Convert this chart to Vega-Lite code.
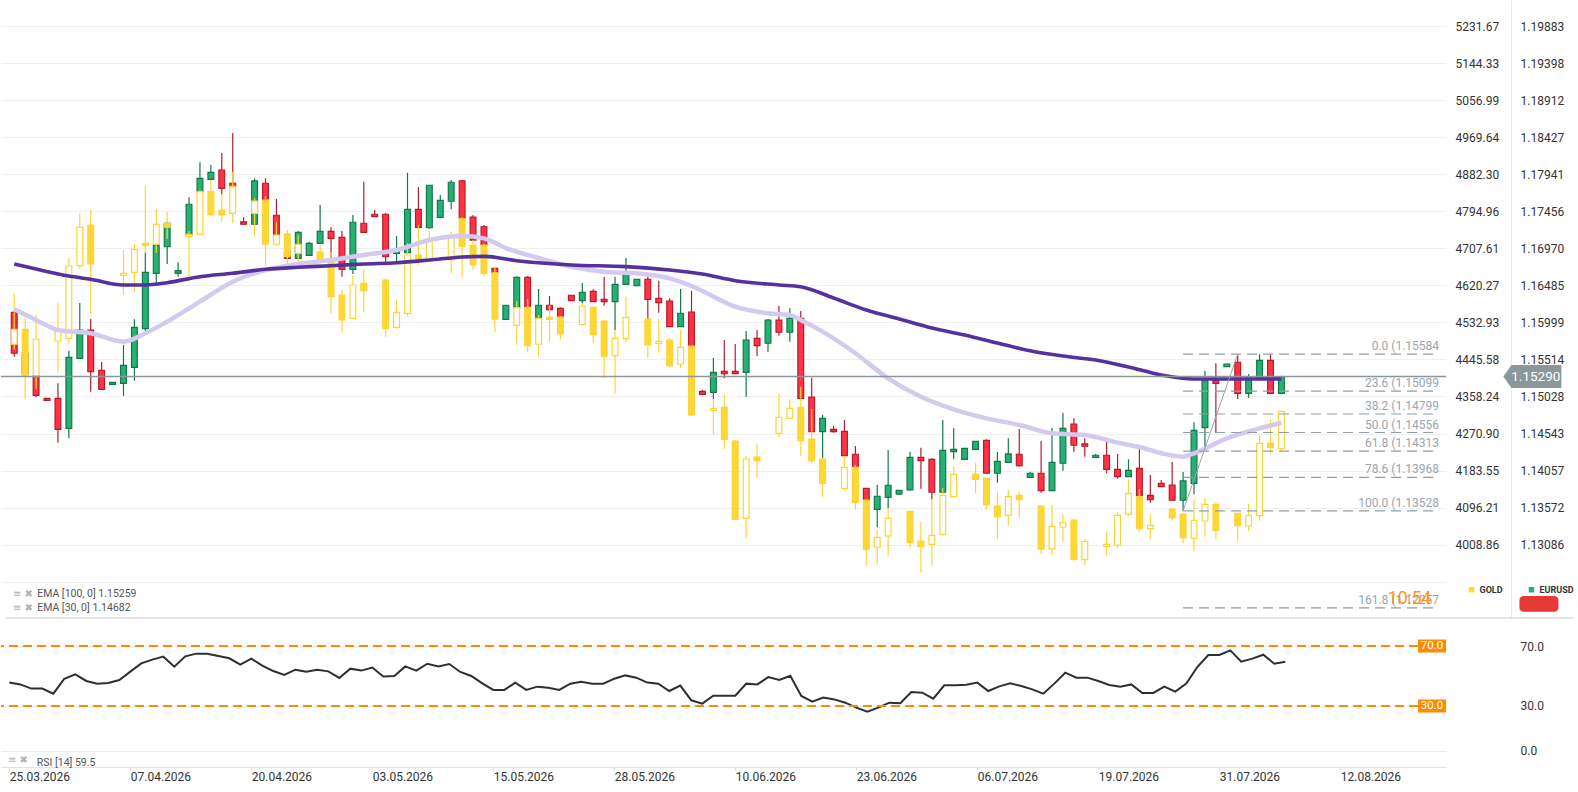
{
  "$schema": "https://vega.github.io/schema/vega-lite/v6.json",
  "padding": 0,
  "background": "white",
  "spacing": 5,
  "config": {
    "view": {"stroke": null},
    "font": "Roboto",
    "axis": {"labelFont": "Roboto", "labelColor": "#333333", "labelFontSize": 12, "title": null}
  },
  "datasets": {
    "candles": [
      {"i":0,"eo":1.16132,"eh":1.16149,"el":1.1555,"ec":1.15595,"go":4481.4,"gh":4600.0,"gl":4469.6,"gc":4516.7,"rsi":45.6},
      {"i":1,"eo":1.15595,"eh":1.15625,"el":1.15296,"ec":1.15323,"go":4516.7,"gh":4542.6,"gl":4351.7,"gc":4407.3,"rsi":44.4},
      {"i":2,"eo":1.153,"eh":1.15323,"el":1.15017,"ec":1.15044,"go":4407.3,"gh":4552.1,"gl":4375.3,"gc":4493.2,"rsi":41.6},
      {"i":3,"eo":1.15004,"eh":1.15008,"el":1.14969,"ec":1.14978,"rsi":41.6},
      {"i":4,"eo":1.15004,"eh":1.15201,"el":1.14423,"ec":1.14598,"go":4489.1,"gh":4579.4,"gl":4416.7,"gc":4512.6,"rsi":38.2},
      {"i":5,"eo":1.14611,"eh":1.15625,"el":1.1448,"ec":1.15542,"go":4495.5,"gh":4685.5,"gl":4483.7,"gc":4666.0,"rsi":48.2},
      {"i":6,"eo":1.15529,"eh":1.16254,"el":1.1552,"ec":1.159,"go":4666.7,"gh":4790.9,"gl":4658.9,"gc":4757.3,"rsi":51.1},
      {"i":7,"eo":1.159,"eh":1.16044,"el":1.15091,"ec":1.15353,"go":4762.6,"gh":4798.0,"gl":4554.4,"gc":4670.7,"rsi":46.7},
      {"i":8,"eo":1.15371,"eh":1.1548,"el":1.15113,"ec":1.15122,"rsi":44.9},
      {"i":9,"eo":1.15188,"eh":1.15218,"el":1.15179,"ec":1.15214,"rsi":45.3},
      {"i":10,"eo":1.15201,"eh":1.15704,"el":1.15034,"ec":1.15437,"go":4644.0,"gh":4703.7,"gl":4598.3,"gc":4648.7,"rsi":47.3},
      {"i":11,"eo":1.1541,"eh":1.1604,"el":1.15235,"ec":1.15935,"go":4651.1,"gh":4717.9,"gl":4605.4,"gc":4705.4,"rsi":52.9},
      {"i":12,"eo":1.15917,"eh":1.16922,"el":1.15883,"ec":1.16656,"go":4719.5,"gh":4854.6,"gl":4695.9,"gc":4713.9,"rsi":58.4},
      {"i":13,"eo":1.16643,"eh":1.17027,"el":1.16512,"ec":1.17013,"go":4717.2,"gh":4800.4,"gl":4697.3,"gc":4764.3,"rsi":60.9},
      {"i":14,"eo":1.16991,"eh":1.17316,"el":1.16765,"ec":1.17299,"go":4766.6,"gh":4792.6,"gl":4729.7,"gc":4757.3,"rsi":62.9},
      {"i":15,"eo":1.16643,"eh":1.16787,"el":1.16598,"ec":1.16677,"rsi":56.2},
      {"i":16,"eo":1.17145,"eh":1.17639,"el":1.17131,"ec":1.17548,"go":4735.1,"gh":4748.5,"gl":4633.0,"gc":4740.7,"rsi":63.1},
      {"i":17,"eo":1.17713,"eh":1.18098,"el":1.17709,"ec":1.17888,"go":4740.7,"gh":4845.2,"gl":4739.1,"gc":4841.2,"rsi":64.9},
      {"i":18,"eo":1.17875,"eh":1.18063,"el":1.17866,"ec":1.17967,"go":4841.2,"gh":4868.8,"gl":4784.6,"gc":4786.2,"rsi":64.9},
      {"i":19,"eo":1.17997,"eh":1.1822,"el":1.17683,"ec":1.17757,"go":4798.0,"gh":4835.8,"gl":4770.4,"gc":4786.2,"rsi":63.3},
      {"i":20,"eo":1.17823,"eh":1.18482,"el":1.17757,"ec":1.17778,"go":4790.2,"gh":4888.3,"gl":4766.6,"gc":4853.9,"rsi":61.8},
      {"i":21,"eo":1.17316,"eh":1.17377,"el":1.17283,"ec":1.17286,"rsi":57.6},
      {"i":22,"eo":1.17286,"eh":1.17888,"el":1.17276,"ec":1.17853,"go":4790.2,"gh":4825.6,"gl":4735.1,"gc":4819.2,"rsi":61.6},
      {"i":23,"eo":1.17823,"eh":1.17888,"el":1.17591,"ec":1.17604,"go":4821.6,"gh":4831.0,"gl":4666.7,"gc":4717.2,"rsi":56.9},
      {"i":24,"eo":1.17404,"eh":1.17617,"el":1.17131,"ec":1.17145,"go":4717.2,"gh":4770.4,"gl":4713.2,"gc":4739.1,"rsi":53.3},
      {"i":25,"eo":1.16926,"eh":1.16948,"el":1.16836,"ec":1.16839,"go":4741.5,"gh":4750.9,"gl":4664.4,"gc":4688.0,"rsi":50.7},
      {"i":26,"eo":1.16839,"eh":1.17197,"el":1.16836,"ec":1.1718,"go":4695.9,"gh":4739.1,"gl":4664.4,"gc":4717.2,"rsi":54.2},
      {"i":27,"eo":1.16879,"eh":1.17057,"el":1.16876,"ec":1.17036,"rsi":52.9},
      {"i":28,"eo":1.17036,"eh":1.17538,"el":1.17034,"ec":1.17193,"go":4699.0,"gh":4715.5,"gl":4676.1,"gc":4681.8,"rsi":54.2},
      {"i":29,"eo":1.17193,"eh":1.17245,"el":1.16598,"ec":1.17101,"go":4680.1,"gh":4698.3,"gl":4554.4,"gc":4593.6,"rsi":53.1},
      {"i":30,"eo":1.17114,"eh":1.17197,"el":1.16598,"ec":1.16695,"go":4597.6,"gh":4609.4,"gl":4508.6,"gc":4538.6,"rsi":48.7},
      {"i":31,"eo":1.16695,"eh":1.17407,"el":1.16634,"ec":1.17312,"go":4542.6,"gh":4644.7,"gl":4540.3,"gc":4621.2,"rsi":54.9},
      {"i":32,"eo":1.17299,"eh":1.17844,"el":1.17177,"ec":1.1718,"go":4625.2,"gh":4658.2,"gl":4558.2,"gc":4607.7,"rsi":53.6},
      {"i":33,"eo":1.17417,"eh":1.17473,"el":1.17383,"ec":1.17387,"rsi":55.6},
      {"i":34,"eo":1.17417,"eh":1.17434,"el":1.16795,"ec":1.1686,"go":4633.0,"gh":4635.4,"gl":4499.3,"gc":4519.0,"rsi":49.6},
      {"i":35,"eo":1.16905,"eh":1.17131,"el":1.16774,"ec":1.16931,"go":4521.4,"gh":4585.8,"gl":4516.7,"gc":4556.8,"rsi":50.0},
      {"i":36,"eo":1.16912,"eh":1.17962,"el":1.16908,"ec":1.17482,"go":4554.4,"gh":4719.5,"gl":4546.4,"gc":4691.9,"rsi":56.4},
      {"i":37,"eo":1.17482,"eh":1.17774,"el":1.17237,"ec":1.17246,"go":4691.9,"gh":4762.6,"gl":4668.3,"gc":4684.1,"rsi":53.6},
      {"i":38,"eo":1.1724,"eh":1.178,"el":1.17227,"ec":1.17797,"go":4681.8,"gh":4748.5,"gl":4681.3,"gc":4724.2,"rsi":58.2},
      {"i":39,"eo":1.17377,"eh":1.17669,"el":1.17374,"ec":1.176,"rsi":56.4},
      {"i":40,"eo":1.17587,"eh":1.17866,"el":1.17482,"ec":1.17836,"go":4680.1,"gh":4746.8,"gl":4648.7,"gc":4735.1,"rsi":58.0},
      {"i":41,"eo":1.17853,"eh":1.17866,"el":1.17351,"ec":1.17359,"go":4777.5,"gh":4780.3,"gl":4639.4,"gc":4711.5,"rsi":52.7},
      {"i":42,"eo":1.17381,"eh":1.17407,"el":1.1707,"ec":1.17079,"go":4715.5,"gh":4727.3,"gl":4656.5,"gc":4668.3,"rsi":50.0},
      {"i":43,"eo":1.17253,"eh":1.17276,"el":1.17,"ec":1.17013,"go":4715.5,"gh":4717.9,"gl":4643.1,"gc":4648.7,"rsi":45.1},
      {"i":44,"eo":1.16708,"eh":1.16712,"el":1.16647,"ec":1.16651,"go":4650.1,"gh":4664.4,"gl":4511.0,"gc":4540.9,"rsi":40.7},
      {"i":45,"eo":1.1604,"eh":1.16228,"el":1.16037,"ec":1.16224,"rsi":40.7},
      {"i":46,"eo":1.16192,"eh":1.16601,"el":1.16188,"ec":1.1659,"go":4526.1,"gh":4583.4,"gl":4479.7,"gc":4567.6,"rsi":45.6},
      {"i":47,"eo":1.1659,"eh":1.16607,"el":1.16195,"ec":1.16198,"go":4568.3,"gh":4588.2,"gl":4463.9,"gc":4478.0,"rsi":40.7},
      {"i":48,"eo":1.16053,"eh":1.16437,"el":1.1605,"ec":1.16224,"go":4481.4,"gh":4550.4,"gl":4452.1,"gc":4542.6,"rsi":42.9},
      {"i":49,"eo":1.16224,"eh":1.16345,"el":1.16162,"ec":1.16168,"go":4545.0,"gh":4573.3,"gl":4487.5,"gc":4540.3,"rsi":42.2},
      {"i":50,"eo":1.16184,"eh":1.16195,"el":1.16066,"ec":1.1607,"go":4545.7,"gh":4548.1,"gl":4493.2,"gc":4506.3,"rsi":40.7},
      {"i":51,"eo":1.16355,"eh":1.16359,"el":1.16284,"ec":1.16286,"rsi":44.9},
      {"i":52,"eo":1.16284,"eh":1.16516,"el":1.16254,"ec":1.16394,"go":4527.5,"gh":4578.7,"gl":4526.8,"gc":4571.0,"rsi":46.2},
      {"i":53,"eo":1.16407,"eh":1.16433,"el":1.16267,"ec":1.16271,"go":4568.3,"gh":4570.3,"gl":4483.7,"gc":4504.0,"rsi":44.9},
      {"i":54,"eo":1.16302,"eh":1.16594,"el":1.16218,"ec":1.16271,"go":4536.2,"gh":4537.4,"gl":4401.1,"gc":4452.1,"rsi":44.9},
      {"i":55,"eo":1.16271,"eh":1.16594,"el":1.159,"ec":1.16499,"go":4454.5,"gh":4515.0,"gl":4365.8,"gc":4495.5,"rsi":48.2},
      {"i":56,"eo":1.16499,"eh":1.16843,"el":1.16496,"ec":1.16643,"go":4494.6,"gh":4593.6,"gl":4487.5,"gc":4545.0,"rsi":50.4},
      {"i":57,"eo":1.16481,"eh":1.16565,"el":1.16477,"ec":1.16562,"rsi":48.9},
      {"i":58,"eo":1.16565,"eh":1.16598,"el":1.16044,"ec":1.16302,"go":4540.9,"gh":4542.1,"gl":4448.3,"gc":4479.7,"rsi":45.6},
      {"i":59,"eo":1.16315,"eh":1.16546,"el":1.16127,"ec":1.16258,"go":4483.7,"gh":4540.9,"gl":4461.5,"gc":4488.4,"rsi":44.9},
      {"i":60,"eo":1.1628,"eh":1.16315,"el":1.15939,"ec":1.15943,"go":4491.5,"gh":4495.5,"gl":4427.1,"gc":4430.9,"rsi":40.0},
      {"i":61,"eo":1.15943,"eh":1.16437,"el":1.15939,"ec":1.16119,"go":4434.9,"gh":4515.0,"gl":4424.7,"gc":4474.2,"rsi":43.6},
      {"i":62,"eo":1.16136,"eh":1.16411,"el":1.15687,"ec":1.15691,"go":4477.3,"gh":4478.5,"gl":4312.2,"gc":4314.6,"rsi":33.8},
      {"i":63,"eo":1.15096,"eh":1.15113,"el":1.15054,"ec":1.15057,"rsi":31.6},
      {"i":64,"eo":1.15083,"eh":1.15533,"el":1.14995,"ec":1.15345,"go":4325.7,"gh":4352.4,"gl":4267.4,"gc":4330.4,"rsi":36.9},
      {"i":65,"eo":1.15358,"eh":1.15769,"el":1.15266,"ec":1.15327,"go":4332.8,"gh":4361.8,"gl":4234.4,"gc":4257.2,"rsi":36.9},
      {"i":66,"eo":1.15358,"eh":1.15716,"el":1.15323,"ec":1.15327,"go":4253.3,"gh":4255.6,"gl":4068.2,"gc":4068.7,"rsi":36.9},
      {"i":67,"eo":1.15345,"eh":1.15887,"el":1.15025,"ec":1.15769,"go":4071.0,"gh":4217.9,"gl":4023.9,"gc":4210.8,"rsi":44.9},
      {"i":68,"eo":1.15791,"eh":1.159,"el":1.15559,"ec":1.15694,"go":4215.6,"gh":4246.2,"gl":4167.7,"gc":4206.8,"rsi":44.4},
      {"i":69,"eo":1.15726,"eh":1.16044,"el":1.15616,"ec":1.16031,"rsi":49.3},
      {"i":70,"eo":1.16031,"eh":1.16214,"el":1.15825,"ec":1.1587,"go":4271.4,"gh":4365.8,"gl":4261.9,"gc":4309.0,"rsi":47.3},
      {"i":71,"eo":1.1587,"eh":1.16184,"el":1.15747,"ec":1.16053,"go":4306.8,"gh":4351.6,"gl":4306.3,"gc":4330.4,"rsi":50.2},
      {"i":72,"eo":1.16053,"eh":1.16149,"el":1.15002,"ec":1.15004,"go":4332.8,"gh":4381.3,"gl":4218.6,"gc":4254.0,"rsi":36.7},
      {"i":73,"eo":1.15021,"eh":1.15274,"el":1.14563,"ec":1.14567,"go":4258.0,"gh":4328.8,"gl":4200.7,"gc":4206.8,"rsi":32.9},
      {"i":74,"eo":1.14567,"eh":1.14786,"el":1.14218,"ec":1.14742,"go":4210.8,"gh":4212.0,"gl":4122.0,"gc":4153.5,"rsi":35.6},
      {"i":75,"eo":1.14598,"eh":1.14641,"el":1.14554,"ec":1.14567,"rsi":34.4},
      {"i":76,"eo":1.14572,"eh":1.1472,"el":1.14248,"ec":1.14252,"go":4140.8,"gh":4218.6,"gl":4136.1,"gc":4191.3,"rsi":32.2},
      {"i":77,"eo":1.14271,"eh":1.1438,"el":1.14098,"ec":1.141,"go":4191.3,"gh":4196.7,"gl":4090.6,"gc":4107.8,"rsi":28.9},
      {"i":78,"eo":1.13825,"eh":1.13829,"el":1.13668,"ec":1.13672,"go":4114.2,"gh":4115.4,"gl":3960.9,"gc":3998.0,"rsi":26.2},
      {"i":79,"eo":1.1355,"eh":1.13868,"el":1.13314,"ec":1.13721,"go":4002.7,"gh":4043.4,"gl":3962.6,"gc":4026.2,"rsi":28.9},
      {"i":80,"eo":1.13707,"eh":1.14327,"el":1.13563,"ec":1.13865,"go":4029.3,"gh":4094.5,"gl":3982.8,"gc":4071.0,"rsi":32.2},
      {"i":81,"eo":1.13747,"eh":1.13803,"el":1.13744,"ec":1.13799,"rsi":31.8},
      {"i":82,"eo":1.13803,"eh":1.14305,"el":1.13796,"ec":1.14231,"go":4087.5,"gh":4088.2,"gl":4000.4,"gc":4013.5,"rsi":39.3},
      {"i":83,"eo":1.14231,"eh":1.14357,"el":1.1382,"ec":1.14187,"go":4017.5,"gh":4062.3,"gl":3942.7,"gc":4004.1,"rsi":38.9},
      {"i":84,"eo":1.14205,"eh":1.14218,"el":1.13681,"ec":1.13773,"go":4009.7,"gh":4115.8,"gl":3960.9,"gc":4030.9,"rsi":34.9},
      {"i":85,"eo":1.13773,"eh":1.1472,"el":1.1377,"ec":1.14323,"go":4033.3,"gh":4141.8,"gl":4030.0,"gc":4125.2,"rsi":43.8},
      {"i":86,"eo":1.14305,"eh":1.14611,"el":1.14205,"ec":1.14336,"go":4122.0,"gh":4194.3,"gl":4120.5,"gc":4174.8,"rsi":43.8},
      {"i":87,"eo":1.14205,"eh":1.14353,"el":1.14202,"ec":1.14349,"rsi":44.2},
      {"i":88,"eo":1.14336,"eh":1.14445,"el":1.14333,"ec":1.14441,"go":4175.5,"gh":4202.1,"gl":4129.9,"gc":4163.0,"rsi":45.6},
      {"i":89,"eo":1.14454,"eh":1.14467,"el":1.14019,"ec":1.14022,"go":4165.3,"gh":4166.0,"gl":4092.2,"gc":4103.1,"rsi":40.0},
      {"i":90,"eo":1.14022,"eh":1.14301,"el":1.13899,"ec":1.14179,"go":4100.0,"gh":4133.7,"gl":4021.5,"gc":4074.8,"rsi":43.1},
      {"i":91,"eo":1.14166,"eh":1.1448,"el":1.14163,"ec":1.14275,"go":4078.1,"gh":4137.7,"gl":4053.6,"gc":4122.0,"rsi":45.1},
      {"i":92,"eo":1.14271,"eh":1.14602,"el":1.14108,"ec":1.14121,"go":4125.2,"gh":4133.7,"gl":4073.4,"gc":4114.9,"rsi":43.3},
      {"i":93,"eo":1.13969,"eh":1.14043,"el":1.13966,"ec":1.14022,"rsi":41.1},
      {"i":94,"eo":1.14022,"eh":1.14445,"el":1.13767,"ec":1.13794,"go":4100.0,"gh":4101.2,"gl":3986.8,"gc":3998.0,"rsi":38.2},
      {"i":95,"eo":1.13794,"eh":1.14615,"el":1.1379,"ec":1.14166,"go":3998.7,"gh":4102.4,"gl":3984.4,"gc":4052.2,"rsi":44.9},
      {"i":96,"eo":1.14153,"eh":1.14812,"el":1.14056,"ec":1.14611,"go":4049.9,"gh":4081.2,"gl":4015.8,"gc":4060.7,"rsi":52.2},
      {"i":97,"eo":1.14668,"eh":1.14742,"el":1.14305,"ec":1.14389,"go":4067.0,"gh":4068.2,"gl":3970.3,"gc":3974.3,"rsi":48.9},
      {"i":98,"eo":1.14406,"eh":1.1448,"el":1.14239,"ec":1.14376,"go":3974.3,"gh":4022.2,"gl":3960.9,"gc":4016.8,"rsi":48.9},
      {"i":99,"eo":1.14231,"eh":1.14275,"el":1.14228,"ec":1.14258,"rsi":46.7},
      {"i":100,"eo":1.14258,"eh":1.14445,"el":1.14022,"ec":1.14074,"go":4005.0,"gh":4038.7,"gl":3982.8,"gc":4009.7,"rsi":44.0},
      {"i":101,"eo":1.14074,"eh":1.14275,"el":1.13951,"ec":1.13977,"go":4008.1,"gh":4085.9,"gl":4000.4,"gc":4078.1,"rsi":42.9},
      {"i":102,"eo":1.13977,"eh":1.14205,"el":1.13973,"ec":1.14061,"go":4080.5,"gh":4163.0,"gl":4077.1,"gc":4129.9,"rsi":44.4},
      {"i":103,"eo":1.14087,"eh":1.1434,"el":1.13711,"ec":1.13715,"go":4122.0,"gh":4140.1,"gl":4039.4,"gc":4046.5,"rsi":38.7},
      {"i":104,"eo":1.13733,"eh":1.13999,"el":1.13636,"ec":1.13675,"go":4046.5,"gh":4081.2,"gl":4021.5,"gc":4054.5,"rsi":38.7},
      {"i":105,"eo":1.1389,"eh":1.13934,"el":1.13842,"ec":1.13846,"rsi":42.9},
      {"i":106,"eo":1.13868,"eh":1.1417,"el":1.13665,"ec":1.13668,"go":4093.0,"gh":4094.1,"gl":4065.3,"gc":4072.4,"rsi":39.6},
      {"i":107,"eo":1.13668,"eh":1.14039,"el":1.13528,"ec":1.13921,"go":4081.2,"gh":4082.3,"gl":4012.0,"gc":4025.3,"rsi":44.9},
      {"i":108,"eo":1.1389,"eh":1.1469,"el":1.13747,"ec":1.14585,"go":4023.9,"gh":4114.2,"gl":3993.9,"gc":4066.3,"rsi":56.0},
      {"i":109,"eo":1.14619,"eh":1.15362,"el":1.14336,"ec":1.15235,"go":4064.6,"gh":4118.9,"gl":4027.7,"gc":4104.0,"rsi":64.0},
      {"i":110,"eo":1.15235,"eh":1.15463,"el":1.14546,"ec":1.15201,"go":4104.0,"gh":4108.8,"gl":4021.5,"gc":4042.7,"rsi":64.0},
      {"i":111,"eo":1.15419,"eh":1.15458,"el":1.15415,"ec":1.15454,"rsi":67.1},
      {"i":112,"eo":1.15477,"eh":1.15584,"el":1.14995,"ec":1.1507,"go":4082.8,"gh":4083.5,"gl":4018.2,"gc":4053.6,"rsi":59.6},
      {"i":113,"eo":1.1507,"eh":1.15323,"el":1.15012,"ec":1.15288,"go":4052.9,"gh":4104.7,"gl":4041.1,"gc":4077.1,"rsi":61.6},
      {"i":114,"eo":1.15274,"eh":1.15581,"el":1.1527,"ec":1.15502,"go":4077.1,"gh":4267.4,"gl":4065.3,"gc":4247.7,"rsi":64.2},
      {"i":115,"eo":1.15502,"eh":1.15581,"el":1.15061,"ec":1.15069,"go":4247.7,"gh":4302.8,"gl":4222.6,"gc":4237.5,"rsi":58.2},
      {"i":116,"eo":1.15069,"eh":1.153,"el":1.15065,"ec":1.1529,"go":4235.2,"gh":4323.3,"gl":4228.1,"gc":4323.3,"rsi":59.5}
    ],
    "ema100": [
      {"i":0,"v":1.16765},{"i":2,"v":1.16699},{"i":5,"v":1.16607},{"i":7,"v":1.16564},{"i":10,"v":1.1649},
      {"i":12,"v":1.1649},{"i":14,"v":1.1652},{"i":17,"v":1.16598},{"i":20,"v":1.16643},{"i":23,"v":1.16695},
      {"i":26,"v":1.16722},{"i":29,"v":1.16742},{"i":32,"v":1.16765},{"i":35,"v":1.16782},{"i":38,"v":1.16817},
      {"i":41,"v":1.16857},{"i":43,"v":1.16865},{"i":46,"v":1.16808},{"i":51,"v":1.16752},{"i":56,"v":1.1673},
      {"i":60,"v":1.16686},{"i":63,"v":1.16634},{"i":66,"v":1.16546},{"i":70,"v":1.1649},{"i":72,"v":1.16467},
      {"i":75,"v":1.16319},{"i":78,"v":1.16162},{"i":81,"v":1.16044},{"i":84,"v":1.15926},{"i":87,"v":1.15834},
      {"i":90,"v":1.15729},{"i":93,"v":1.15628},{"i":96,"v":1.15559},{"i":99,"v":1.15506},{"i":102,"v":1.15415},
      {"i":105,"v":1.1531},{"i":108,"v":1.15258},{"i":111,"v":1.15258},{"i":116,"v":1.15259}
    ],
    "ema30": [
      {"i":0,"v":1.16171},{"i":2,"v":1.16031},{"i":4,"v":1.159},{"i":7,"v":1.15857},{"i":10,"v":1.15747},
      {"i":12,"v":1.15857},{"i":14,"v":1.16009},{"i":17,"v":1.16271},{"i":20,"v":1.16533},{"i":23,"v":1.16686},
      {"i":26,"v":1.16765},{"i":29,"v":1.16817},{"i":32,"v":1.16883},{"i":35,"v":1.16948},{"i":38,"v":1.17079},
      {"i":41,"v":1.17131},{"i":43,"v":1.17101},{"i":45,"v":1.16974},{"i":48,"v":1.16843},{"i":51,"v":1.16729},
      {"i":54,"v":1.16664},{"i":57,"v":1.16643},{"i":60,"v":1.16577},{"i":62,"v":1.16476},{"i":63,"v":1.16411},
      {"i":66,"v":1.16205},{"i":69,"v":1.16119},{"i":71,"v":1.16097},{"i":72,"v":1.16031},{"i":74,"v":1.15878},
      {"i":77,"v":1.15595},{"i":80,"v":1.15266},{"i":83,"v":1.15025},{"i":86,"v":1.1486},{"i":89,"v":1.14742},
      {"i":92,"v":1.14655},{"i":95,"v":1.14546},{"i":98,"v":1.14524},{"i":101,"v":1.14423},{"i":103,"v":1.14366},
      {"i":105,"v":1.14284},{"i":107,"v":1.1424},{"i":108,"v":1.14284},{"i":111,"v":1.1448},{"i":114,"v":1.14611},
      {"i":116,"v":1.14682}
    ],
    "fib": [
      {"level":"0.0","price":1.15584,"label":"0.0 (1.15584"},
      {"level":"23.6","price":1.15099,"label":"23.6 (1.15099"},
      {"level":"38.2","price":1.14799,"label":"38.2 (1.14799"},
      {"level":"50.0","price":1.14556,"label":"50.0 (1.14556"},
      {"level":"61.8","price":1.14313,"label":"61.8 (1.14313"},
      {"level":"78.6","price":1.13968,"label":"78.6 (1.13968"},
      {"level":"100.0","price":1.13528,"label":"100.0 (1.13528"},
      {"level":"161.8","price":1.12257,"label":"161.8 (1.12257"}
    ],
    "series": [{"s":"GOLD"},{"s":"EURUSD"}],
    "rsiLevels": [{"lvl":70},{"lvl":30}]
  },
  "vconcat": [
    {
      "width": 1445,
      "height": 618,
      "resolve": {"scale": {"y": "independent"}, "axis": {"y": "independent"}},
      "layer": [
        {
          "data": {"name": "candles"},
          "layer": [
            {
              "mark": {"type": "rule", "strokeWidth": 1.2},
              "encoding": {
                "x": {"field": "i", "type": "quantitative", "scale": {"domain": [-0.7545, 130.6091], "nice": false, "zero": false}, "axis": null},
                "y": {
                  "field": "el", "type": "quantitative",
                  "scale": {"domain": [1.12125, 1.20225], "nice": false, "zero": false},
                  "axis": {
                    "orient": "right", "offset": 65, "format": ".5f", "grid": false, "ticks": false,
                    "domain": true, "domainColor": "#e6e6e6", "labelPadding": 9,
                    "values": [1.19883, 1.19398, 1.18912, 1.18427, 1.17941, 1.17456, 1.1697, 1.16485, 1.15999, 1.15514, 1.15028, 1.14543, 1.14057, 1.13572, 1.13086]
                  }
                },
                "y2": {"field": "eh"},
                "stroke": {"condition": {"test": "datum.ec >= datum.eo", "value": "#13784a"}, "value": "#b51c2b"}
              }
            },
            {
              "mark": {"type": "bar", "width": 5.8, "strokeWidth": 1.2},
              "encoding": {
                "x": {"field": "i", "type": "quantitative", "axis": null},
                "y": {"field": "eo", "type": "quantitative"},
                "y2": {"field": "ec"},
                "fill": {"condition": {"test": "datum.ec >= datum.eo", "value": "#26b074"}, "value": "#ff3346"},
                "stroke": {"condition": {"test": "datum.ec >= datum.eo", "value": "#13784a"}, "value": "#b51c2b"}
              }
            }
          ]
        },
        {
          "data": {"name": "candles"},
          "transform": [{"filter": "isValid(datum.go)"}],
          "layer": [
            {
              "mark": {"type": "rule", "strokeWidth": 1.2, "color": "#fcd535"},
              "encoding": {
                "x": {"field": "i", "type": "quantitative", "axis": null},
                "y": {
                  "field": "gl", "type": "quantitative",
                  "scale": {"domain": [3835.91, 5293.22], "nice": false, "zero": false},
                  "axis": {
                    "orient": "right", "offset": 0, "grid": true, "gridColor": "#efefef", "ticks": false,
                    "domain": false, "labelPadding": 9,
                    "values": [5231.67, 5144.33, 5056.99, 4969.64, 4882.3, 4794.96, 4707.61, 4620.27, 4532.93, 4445.58, 4358.24, 4270.9, 4183.55, 4096.21, 4008.86, 3921.52],
                    "labelExpr": "datum.value < 3950 ? '' : format(datum.value, '.2f')"
                  }
                },
                "y2": {"field": "gh"}
              }
            },
            {
              "mark": {"type": "bar", "width": 5.8, "strokeWidth": 1.2, "stroke": "#fcd535"},
              "encoding": {
                "x": {"field": "i", "type": "quantitative", "axis": null},
                "y": {"field": "go", "type": "quantitative"},
                "y2": {"field": "gc"},
                "fill": {"condition": {"test": "datum.gc >= datum.go", "value": "#ffffff"}, "value": "#fdd835"}
              }
            }
          ]
        },
        {
          "layer": [
            {
              "data": {"name": "ema30"},
              "mark": {"type": "line", "color": "#d4c9ee", "strokeWidth": 4.5, "interpolate": "monotone"},
              "encoding": {
                "x": {"field": "i", "type": "quantitative", "axis": null},
                "y": {"field": "v", "type": "quantitative", "scale": {"domain": [1.12125, 1.20225], "nice": false, "zero": false}, "axis": null}
              }
            },
            {
              "data": {"name": "ema100"},
              "mark": {"type": "line", "color": "#56309f", "strokeWidth": 3.6, "interpolate": "monotone"},
              "encoding": {
                "x": {"field": "i", "type": "quantitative", "axis": null},
                "y": {"field": "v", "type": "quantitative", "axis": null}
              }
            },
            {
              "data": {"name": "fib"},
              "mark": {"type": "rule", "color": "#8f9ea6", "strokeWidth": 1.2, "strokeDash": [10, 6]},
              "encoding": {
                "x": {"datum": 107, "type": "quantitative", "axis": null},
                "x2": {"datum": 130.43},
                "y": {"field": "price", "type": "quantitative", "axis": null}
              }
            },
            {
              "data": {"name": "fib"},
              "mark": {"type": "text", "align": "right", "baseline": "middle", "dy": -8, "fontSize": 12, "color": "#9aa5ab"},
              "encoding": {
                "x": {"datum": 130.43, "type": "quantitative", "axis": null},
                "y": {"field": "price", "type": "quantitative", "axis": null},
                "text": {"field": "label"}
              }
            },
            {
              "data": {"values": [{}]},
              "mark": {"type": "rule", "color": "#9aa5ab", "strokeWidth": 1},
              "encoding": {
                "x": {"datum": 107, "type": "quantitative", "axis": null},
                "y": {"datum": 1.13528, "type": "quantitative", "axis": null},
                "x2": {"datum": 112},
                "y2": {"datum": 1.15584}
              }
            },
            {
              "data": {"values": [{"p": 1.1529}]},
              "mark": {"type": "rule", "color": "#8c979c", "strokeWidth": 1.5},
              "encoding": {"y": {"field": "p", "type": "quantitative", "axis": null}}
            },
            {
              "data": {"values": [{"p": 1.1529}]},
              "mark": {"type": "point", "shape": "M-1,0L-0.72,-0.4H1V0.4H-0.72Z", "size": 3364, "filled": true, "color": "#8c979c", "opacity": 1, "strokeWidth": 0, "clip": false},
              "encoding": {
                "x": {"datum": 138.97, "type": "quantitative", "axis": null},
                "y": {"field": "p", "type": "quantitative", "axis": null}
              }
            },
            {
              "data": {"values": [{"p": 1.1529}]},
              "mark": {"type": "text", "color": "#ffffff", "fontSize": 13.5, "align": "center", "baseline": "middle", "clip": false},
              "encoding": {
                "x": {"datum": 139.29, "type": "quantitative", "axis": null},
                "y": {"field": "p", "type": "quantitative", "axis": null},
                "text": {"field": "p", "type": "quantitative", "format": ".5f"}
              }
            },
            {
              "data": {"values": [{}]},
              "mark": {"type": "text", "text": "10:54", "color": "#ff8c00", "fontSize": 17.5, "align": "center", "baseline": "middle", "opacity": 0.9},
              "encoding": {
                "x": {"datum": 127.74, "type": "quantitative", "axis": null},
                "y": {"datum": 1.12374, "type": "quantitative", "axis": null}
              }
            },
            {
              "data": {"values": [{}]},
              "mark": {"type": "text", "text": "≡ ✖", "font": "DejaVu Sans", "color": "#b3b3b3", "fontSize": 10, "align": "left", "baseline": "middle"},
              "encoding": {
                "x": {"datum": -0.12, "type": "quantitative", "axis": null},
                "y": {"datum": 1.12436, "type": "quantitative", "axis": null}
              }
            },
            {
              "data": {"values": [{}]},
              "mark": {"type": "text", "text": "≡ ✖", "font": "DejaVu Sans", "color": "#b3b3b3", "fontSize": 10, "align": "left", "baseline": "middle"},
              "encoding": {
                "x": {"datum": -0.12, "type": "quantitative", "axis": null},
                "y": {"datum": 1.12252, "type": "quantitative", "axis": null}
              }
            },
            {
              "data": {"values": [{}]},
              "mark": {"type": "text", "text": "EMA [100, 0] 1.15259", "color": "#555555", "fontSize": 10.5, "align": "left", "baseline": "middle"},
              "encoding": {
                "x": {"datum": 2.1, "type": "quantitative", "axis": null},
                "y": {"datum": 1.12436, "type": "quantitative", "axis": null}
              }
            },
            {
              "data": {"values": [{}]},
              "mark": {"type": "text", "text": "EMA [30, 0] 1.14682", "color": "#555555", "fontSize": 10.5, "align": "left", "baseline": "middle"},
              "encoding": {
                "x": {"datum": 2.1, "type": "quantitative", "axis": null},
                "y": {"datum": 1.12252, "type": "quantitative", "axis": null}
              }
            },
            {
              "data": {"values": [{}]},
              "mark": {"type": "rect", "color": "#e53935", "cornerRadius": 4, "clip": false},
              "encoding": {
                "x": {"datum": 137.79, "type": "quantitative", "axis": null},
                "x2": {"datum": 141.36},
                "y": {"datum": 1.12413, "type": "quantitative", "axis": null},
                "y2": {"datum": 1.12208}
              }
            },
            {
              "data": {"values": [{}]},
              "mark": {"type": "rule", "color": "#dcdcdc", "strokeWidth": 1.5, "clip": false},
              "encoding": {
                "x": {"datum": -0.7545, "type": "quantitative", "axis": null},
                "x2": {"datum": 142.7},
                "y": {"datum": 1.12125, "type": "quantitative", "axis": null}
              }
            },
            {
              "data": {"name": "series"},
              "mark": {"type": "point", "filled": true, "opacity": 0},
              "encoding": {
                "x": {"datum": 60, "type": "quantitative", "axis": null},
                "y": {"datum": 1.16, "type": "quantitative", "axis": null},
                "color": {
                  "field": "s", "type": "nominal",
                  "scale": {"domain": ["GOLD", "EURUSD"], "range": ["#fdd835", "#26b074"]},
                  "legend": {
                    "orient": "none", "legendX": 1466, "legendY": 585, "direction": "horizontal", "title": null,
                    "padding": 0, "symbolType": "square", "symbolSize": 30, "symbolOpacity": 1, "symbolStrokeWidth": 0,
                    "labelFontSize": 9, "labelFontWeight": "bold", "labelColor": "#333333", "labelOffset": 3.5, "columnPadding": 24
                  }
                }
              }
            }
          ]
        }
      ]
    },
    {
      "width": 1445,
      "height": 143,
      "layer": [
        {
          "data": {"name": "candles"},
          "mark": {"type": "line", "color": "#2a3036", "strokeWidth": 2},
          "encoding": {
            "x": {
              "field": "i", "type": "quantitative",
              "scale": {"domain": [-0.7545, 130.6091], "nice": false, "zero": false},
              "axis": {
                "orient": "bottom", "values": [0, 11, 22, 33, 44, 55, 66, 77, 88, 99, 110, 121],
                "labelExpr": "['25.03.2026','07.04.2026','20.04.2026','03.05.2026','15.05.2026','28.05.2026','10.06.2026','23.06.2026','06.07.2026','19.07.2026','31.07.2026','12.08.2026'][round(datum.value / 11)]",
                "labelAlign": "left", "labelPadding": 1, "tickSize": 3, "tickColor": "#dddddd",
                "domainColor": "#e3e3e3", "grid": false, "labelBound": false, "labelFlush": false, "labelOverlap": false
              }
            },
            "y": {
              "field": "rsi", "type": "quantitative",
              "scale": {"domain": [-10.667, 84.667], "nice": false, "zero": false},
              "axis": {"orient": "right", "offset": 65, "values": [0, 30, 70], "format": ".1f", "grid": true, "gridColor": "#ececec", "ticks": false, "domain": false, "labelPadding": 9}
            }
          }
        },
        {
          "data": {"name": "rsiLevels"},
          "mark": {"type": "rule", "color": "#ff8c00", "strokeWidth": 2, "strokeDash": [9, 5]},
          "encoding": {"y": {"field": "lvl", "type": "quantitative"}}
        },
        {
          "data": {"name": "rsiLevels"},
          "mark": {"type": "point", "shape": "M-1,-0.464H1V0.464H-1Z", "size": 784, "filled": true, "color": "#ff8c00", "opacity": 1, "strokeWidth": 0},
          "encoding": {
            "x": {"datum": 129.34, "type": "quantitative"},
            "y": {"field": "lvl", "type": "quantitative"}
          }
        },
        {
          "data": {"name": "rsiLevels"},
          "mark": {"type": "text", "color": "#ffffff", "fontSize": 11.5, "align": "center", "baseline": "middle"},
          "encoding": {
            "x": {"datum": 129.34, "type": "quantitative"},
            "y": {"field": "lvl", "type": "quantitative"},
            "text": {"field": "lvl", "type": "quantitative", "format": ".1f"}
          }
        },
        {
          "data": {"values": [{}]},
          "mark": {"type": "text", "text": "≡ ✖", "font": "DejaVu Sans", "color": "#b3b3b3", "fontSize": 10, "align": "left", "baseline": "middle"},
          "encoding": {
            "x": {"datum": -0.12, "type": "quantitative"},
            "y": {"datum": -6, "type": "quantitative"}
          }
        },
        {
          "data": {"values": [{}]},
          "mark": {"type": "text", "text": "RSI [14] 59.5", "color": "#555555", "fontSize": 10.5, "align": "left", "baseline": "middle"},
          "encoding": {
            "x": {"datum": 2.5, "type": "quantitative"},
            "y": {"datum": -7.8, "type": "quantitative"}
          }
        }
      ]
    }
  ]
}
